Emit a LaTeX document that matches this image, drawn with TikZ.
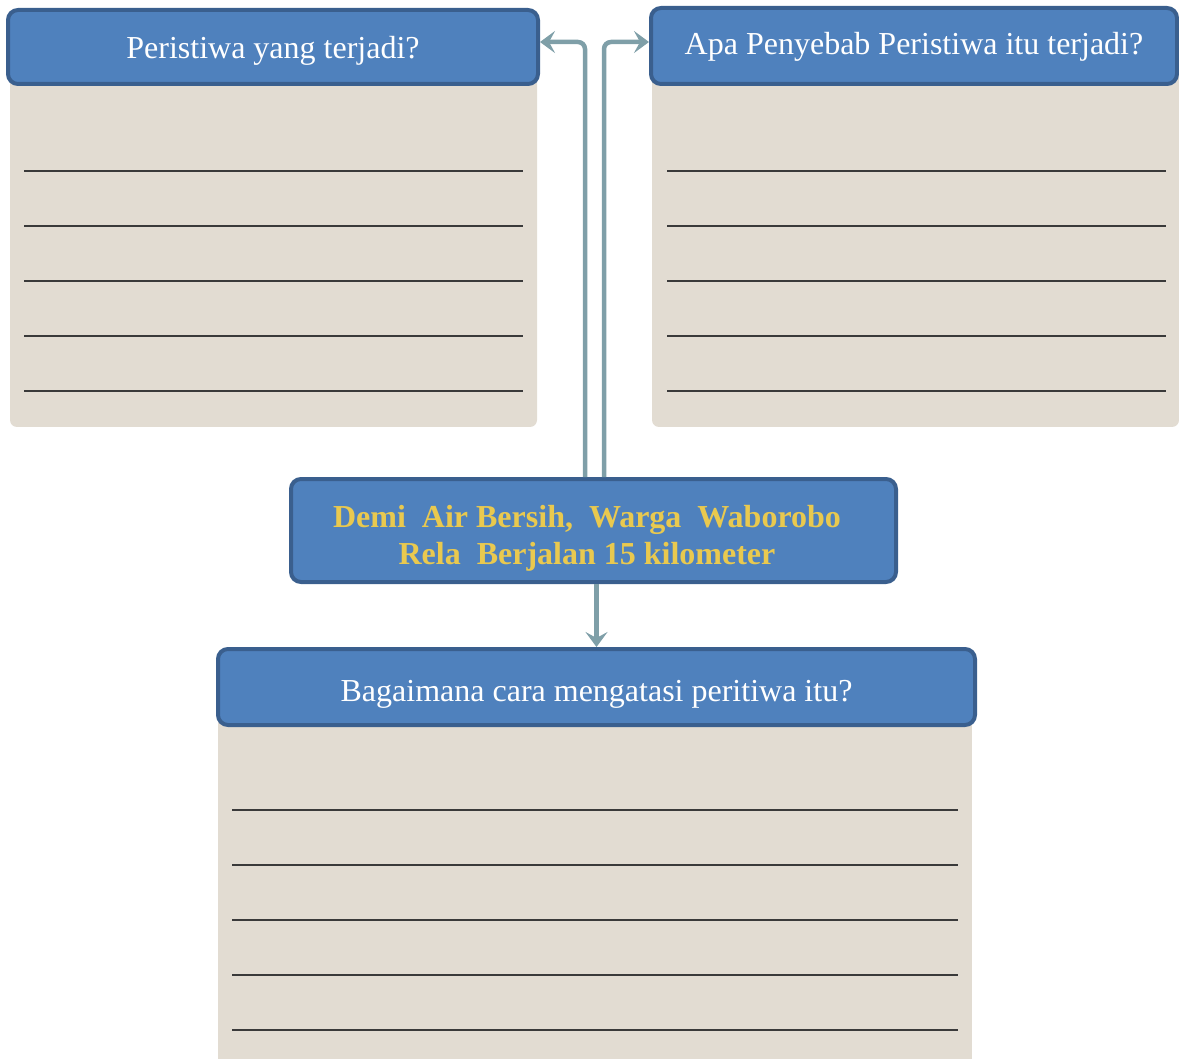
\documentclass[tikz,border=0pt]{standalone}
\usepackage{fontspec}
\setmainfont{Liberation Serif}
\usetikzlibrary{arrows.meta,calc}
\definecolor{hdrfill}{HTML}{4F81BD}
\definecolor{hdrdraw}{HTML}{3A5F8E}
\definecolor{panel}{HTML}{E2DCD2}
\definecolor{arrowc}{HTML}{7F9FA8}
\definecolor{ruleline}{HTML}{3A3A3A}
\definecolor{gold}{HTML}{E9C94F}
\tikzset{
  x=1pt, y=-1pt,
  hdr/.style={draw=hdrdraw, fill=hdrfill, line width=4pt, rounded corners=10pt, text=white, font=\fontsize{32}{36}\selectfont, inner sep=0pt},
  panelbox/.style={fill=panel},
  writeline/.style={draw=ruleline, line width=1.2pt},
  arr/.style={draw=arrowc, line width=4.5pt, rounded corners=7pt, -{Stealth[length=15pt,width=22pt,inset=6pt]}},
  title/.style={text=gold, font=\fontsize{32}{37}\selectfont\bfseries, align=center, inner sep=0pt}
}
\begin{document}
\begin{tikzpicture}
\useasboundingbox (0,0) rectangle (1179,1059);
% panels
\path[panelbox, rounded corners=7pt] (10,70) rectangle (537,427);
\path[panelbox, rounded corners=7pt] (652,70) rectangle (1179,427);
\path[panelbox] (218,710) rectangle (972,1059);
% writing lines
\foreach \y in {171,226,281,336,391} {
  \draw[writeline] (24,\y) -- (523,\y);
  \draw[writeline] (667,\y) -- (1166,\y);
}
\foreach \y in {810,865,920,975,1030} {
  \draw[writeline] (232,\y) -- (958,\y);
}
% headers
\node[hdr, minimum width=530pt, minimum height=74pt, text height=26pt, text depth=2pt] (hdrL) at (273,47) {Peristiwa yang terjadi?};
\node[hdr, minimum width=526pt, minimum height=76pt, text height=25pt, text depth=7pt] (hdrR) at (914,46) {Apa Penyebab Peristiwa itu terjadi?};
\node[hdr, minimum width=757pt, minimum height=76pt, text height=28pt, text depth=0pt] (hdrB) at (596.5,687) {Bagaimana cara mengatasi peritiwa itu?};
\node[hdr, minimum width=605pt, minimum height=103pt] (mid) at (593.5,530.5) {};
\node[title] (midtext) at (587,538) {Demi\ \ Air Bersih,\ \ Warga\ \ Waborobo\\Rela\ \ Berjalan 15 kilometer};
% connectors
\coordinate (lstart) at ([xshift=-8.5pt]mid.north);
\coordinate (rstart) at ([xshift=10.5pt]mid.north);
\draw[arr] (lstart) |- ([yshift=5pt]hdrL.east);
\draw[arr] (rstart) |- ([yshift=4pt]hdrR.west);
\draw[arr, rounded corners=0pt] (mid.south -| hdrB.north) -- (hdrB.north);
\end{tikzpicture}
\end{document}
